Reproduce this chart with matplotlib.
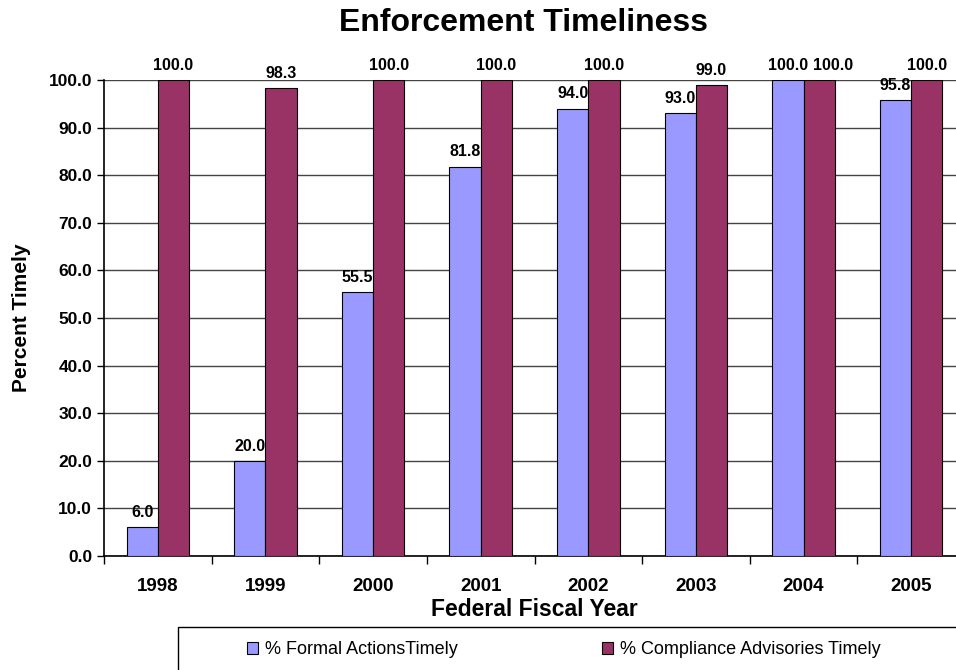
import numpy as np
import matplotlib
matplotlib.use("Agg")
import matplotlib.pyplot as plt
from matplotlib.patches import Rectangle

plt.rcParams['font.family'] = ['Liberation Sans', 'DejaVu Sans']

years = ['1998', '1999', '2000', '2001', '2002', '2003', '2004', '2005']
formal = [6.0, 20.0, 55.5, 81.8, 94.0, 93.0, 100.0, 95.8]
advisories = [100.0, 98.3, 100.0, 100.0, 100.0, 99.0, 100.0, 100.0]
yticks = np.arange(0, 101, 10)

blue = '#9999FF'
purple = '#993366'

W, H = 956, 670
fig = plt.figure(figsize=(W / 100, H / 100), dpi=100)
# plot area runs a bit past the right edge, as in the original
ax = fig.add_axes([104 / W, 1 - 556 / H, 861 / W, 476 / H])

x = np.arange(len(years))
w = 0.29
b1 = ax.bar(x - w / 2, formal, w, color=blue, edgecolor='black', linewidth=0.8,
            label='% Formal ActionsTimely', zorder=3)
b2 = ax.bar(x + w / 2, advisories, w, color=purple, edgecolor='black', linewidth=0.8,
            label='% Compliance Advisories Timely', zorder=3)

for bars, vals in ((b1, formal), (b2, advisories)):
    for i, (r, v) in enumerate(zip(bars, vals)):
        dx = 0.0
        if years[i] == '2004' and bars is b2:
            dx = 0.13  # nudge so the two labels don't collide
        ax.text(r.get_x() + r.get_width() / 2 + dx, v + 1.5, f'{v:.1f}',
                ha='center', va='bottom', fontsize=11.5, fontweight='bold')

ax.set_xlim(-0.5, len(years) - 0.5)
ax.set_ylim(0, 100)
ax.set_yticks(yticks)
ax.set_yticklabels([f'{t:.1f}' for t in yticks], fontsize=12.5, fontweight='bold')
ax.yaxis.grid(True, color='#444444', linewidth=1, zorder=0)

# category ticks at group boundaries, labels at centres
ax.set_xticks(np.arange(len(years) + 1) - 0.5)
ax.set_xticklabels([])
ax.set_xticks(x, minor=True)
ax.set_xticklabels(years, minor=True, fontsize=13.5, fontweight='bold')
ax.tick_params(axis='x', which='minor', length=0, pad=16)
ax.tick_params(axis='x', which='major', length=6, width=1)
ax.tick_params(axis='y', length=5, width=1)

for s in ('top', 'right'):
    ax.spines[s].set_visible(False)
ax.spines['left'].set_linewidth(1.2)
ax.spines['bottom'].set_linewidth(1.2)

ax.set_ylabel('Percent Timely', fontsize=15, fontweight='bold', labelpad=13)
ax.set_xlabel('Federal Fiscal Year', fontsize=16.5, fontweight='bold', labelpad=2)
fig.text((104 + 943) / 2 / W, 1 - 23 / H, 'Enforcement Timeliness',
         ha='center', va='center', fontsize=23, fontweight='bold')

# legend frame runs off the bottom/right edge
fig.patches.append(Rectangle((178 / W, -0.05), 0.85, 0.05 + 43 / H,
                             transform=fig.transFigure, fill=False,
                             edgecolor='black', linewidth=1))
leg = fig.legend(handles=[b1, b2], loc='center left', ncol=2,
                 bbox_to_anchor=(247 / W, 1 - 650 / H),
                 fontsize=13, frameon=False, handlelength=0.6, handleheight=0.6,
                 handletextpad=0.4, columnspacing=8.0, borderaxespad=0,
                 borderpad=0)

fig.savefig('out.png', dpi=100)
